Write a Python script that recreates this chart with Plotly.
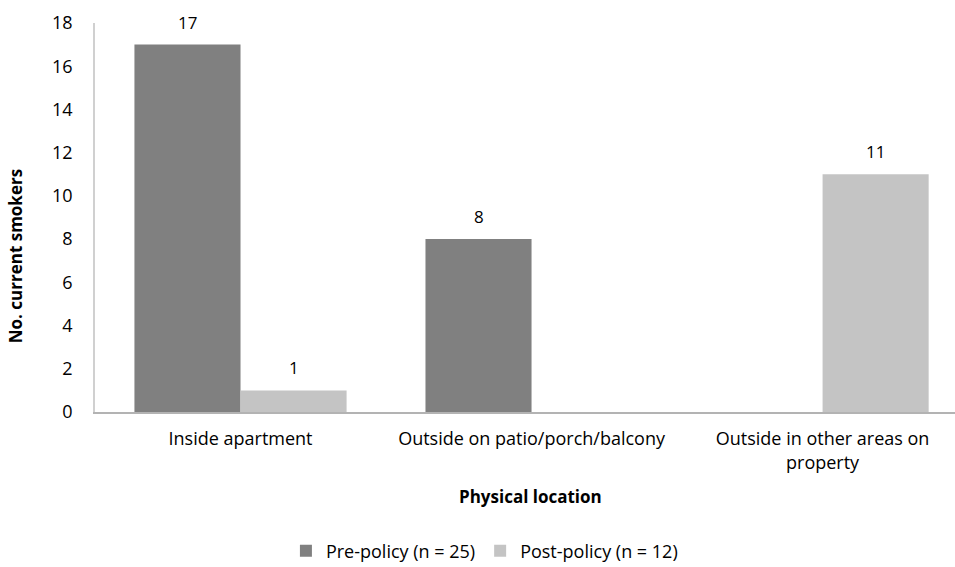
import plotly.graph_objects as go

# Where current smokers reported smoking, before and after the smoke-free policy
locations = [
    "Inside apartment",
    "Outside on patio/porch/balcony",
    "Outside in other areas on<br>property",
]
pre_policy = [17, 8, 0]
post_policy = [1, 0, 11]
series_names = ["Pre-policy (n = 25)", "Post-policy (n = 12)"]
y_ticks = [0, 2, 4, 6, 8, 10, 12, 14, 16, 18]

FONT = "'Open Sans', 'Noto Sans', sans-serif"
TEXT = "#000000"
COLORS = ["#808080", "#c4c4c4"]

# plot geometry used to place value labels over each bar of a group
PLOT_LEFT, PLOT_WIDTH = 95, 860
X_RANGE = [-0.5, 2.455]
BARGAP = 0.271
px_per_cat = PLOT_WIDTH / (X_RANGE[1] - X_RANGE[0])
bar_px = px_per_cat * (1 - BARGAP) / 2

fig = go.Figure()
annotations = []
for k, (name, values) in enumerate(zip(series_names, [pre_policy, post_policy])):
    fig.add_trace(
        go.Bar(
            name=name,
            x=locations,
            y=values,
            marker=dict(color=COLORS[k], line=dict(width=0)),
            hoverinfo="x+y+name",
        )
    )
    offset = (k - 0.5) * bar_px
    for loc, v in zip(locations, values):
        if v:  # zero-height bars carry no label
            annotations.append(
                dict(
                    x=loc,
                    y=v,
                    xref="x",
                    yref="y",
                    text=str(v),
                    showarrow=False,
                    xanchor="center",
                    yanchor="bottom",
                    xshift=offset,
                    yshift=9,
                    font=dict(family=FONT, size=17, color=TEXT),
                )
            )

annotations += [
    dict(
        text="<b>No. current smokers</b>",
        xref="paper",
        yref="paper",
        x=-0.092,
        y=0.4,
        xanchor="center",
        yanchor="middle",
        textangle=-90,
        showarrow=False,
        font=dict(family=FONT, size=17, color=TEXT),
    ),
    dict(
        text="<b>Physical location</b>",
        xref="paper",
        yref="paper",
        x=0.506,
        y=-0.218,
        xanchor="center",
        yanchor="middle",
        showarrow=False,
        font=dict(family=FONT, size=17, color=TEXT),
    ),
]

fig.update_layout(
    width=955,
    height=567,
    margin=dict(l=PLOT_LEFT, r=0, t=23, b=155),
    paper_bgcolor="white",
    plot_bgcolor="white",
    barmode="group",
    bargap=BARGAP,
    bargroupgap=0,
    font=dict(family=FONT, size=18, color=TEXT),
    showlegend=True,
    legend=dict(
        orientation="h",
        x=0.222,
        xanchor="left",
        xref="paper",
        y=0.028,
        yanchor="middle",
        yref="container",
        font=dict(family=FONT, size=18, color=TEXT),
        traceorder="normal",
    ),
    xaxis=dict(
        type="category",
        range=X_RANGE,
        showline=True,
        linecolor="#b3b3b3",
        linewidth=1.5,
        ticks="",
        showgrid=False,
        zeroline=False,
        tickfont=dict(family=FONT, size=18, color=TEXT),
        ticklabelstandoff=10,
        automargin=False,
    ),
    yaxis=dict(
        range=[0, 18],
        tickvals=y_ticks,
        showline=True,
        linecolor="#d0d0d0",
        linewidth=1.5,
        ticks="",
        showgrid=False,
        zeroline=False,
        tickfont=dict(family=FONT, size=18, color=TEXT),
        ticklabelstandoff=17,
        automargin=False,
    ),
    annotations=annotations,
)

fig.write_html("out.html")
